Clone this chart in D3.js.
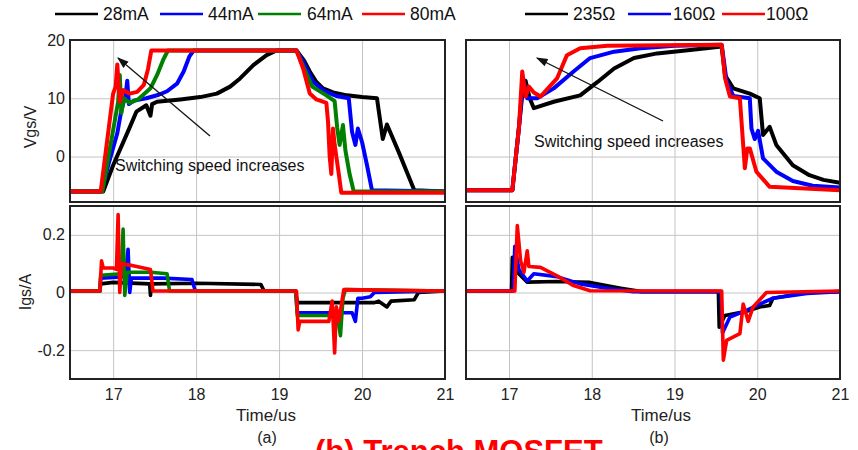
<!DOCTYPE html>
<html lang='en'>
<head>
<meta charset=utf-8>
<title>Gate voltage and current</title>
<script src="https://cdn.jsdelivr.net/npm/d3@7"></script>
<style>
	body { margin: 0; background: white; }
	svg { display: block; font-family: "Liberation Sans", Arial, sans-serif; }
	.grid line { stroke: #c4c4c4; stroke-width: 1; }
	.grid path { display: none; }
	.tick text { font-size: 16px; fill: #222; }
	.frame { fill: none; stroke: #222; stroke-width: 2; }
	.trace { fill: none; stroke-linejoin: round; stroke-linecap: round; }
</style>
</head>
<body>
<svg id='chart' width="858" height="450"></svg>
<script>
// ticks
const timeTicks = [17, 18, 19, 20, 21];
const vgsTicks = [0, 10, 20];
const igsTicks = [-0.2, 0, 0.2];

// legends
const legendA = ['28mA', '44mA', '64mA', '80mA'];
const legendB = ['235Ω', '160Ω', '100Ω'];

// (a) Vgs, [time us, volts]
const vgsA28 = [[16.48,-6],[16.88,-6],[17.0,-1.5],[17.2,5],[17.28,7.7],[17.4,8.8],[17.45,7],[17.47,9],[17.53,9.4],[17.81,9.8],[18.05,10.2],[18.25,10.8],[18.41,12],[18.53,13.4],[18.69,15.7],[18.85,17.4],[18.97,18.2],[19.21,18.2],[19.3,16.5],[19.37,14.6],[19.45,12.8],[19.53,11.7],[19.65,11],[19.82,10.5],[20.0,10.2],[20.18,10],[20.21,7],[20.25,3],[20.3,5.5],[20.33,4.5],[20.45,0.5],[20.55,-3],[20.63,-5.8],[21,-6]];
const vgsA44 = [[16.48,-6],[16.86,-6],[16.95,-1],[17.05,4],[17.1,8],[17.15,10.5],[17.17,13],[17.19,9],[17.25,9.6],[17.4,10],[17.55,10.6],[17.65,11.2],[17.77,12.5],[17.85,14.6],[17.92,17.2],[17.97,18.2],[19.21,18.2],[19.3,16],[19.41,12.8],[19.55,11.2],[19.69,10.4],[19.84,10],[19.88,4.2],[19.92,2],[19.95,4.8],[20.0,2.5],[20.06,-1.5],[20.12,-5.8],[21,-6]];
const vgsA64 = [[16.48,-6],[16.87,-6],[17.06,9.4],[17.08,14],[17.1,7.5],[17.13,10],[17.2,9.2],[17.3,9.8],[17.45,11.7],[17.53,14],[17.6,16.5],[17.66,18.2],[19.21,18.2],[19.29,15.5],[19.4,12],[19.57,10.5],[19.67,9.5],[19.7,5],[19.73,2],[19.77,5.4],[19.8,1],[19.85,-3],[19.9,-6],[21,-6]];
const vgsA80 = [[16.48,-6],[16.85,-6],[17.0,10.8],[17.03,12],[17.05,15.8],[17.08,9.4],[17.12,11.4],[17.2,10.8],[17.29,11.1],[17.37,12.3],[17.42,15],[17.46,18.2],[19.21,18.2],[19.29,15.1],[19.37,10.8],[19.45,9.8],[19.57,9.2],[19.59,6],[19.61,0],[19.63,-3],[19.65,4.8],[19.67,2],[19.72,-3],[19.75,-6.2],[21,-6.2]];

// (a) Igs, [time us, amps]
const igsA28 = [[16.48,0.005],[16.84,0.005],[16.85,0.03],[17.0,0.035],[17.44,0.03],[17.45,-0.01],[17.46,0.03],[18.0,0.032],[18.78,0.028],[18.82,0.005],[19.2,0.005],[19.22,-0.035],[20.15,-0.035],[20.2,-0.03],[20.3,-0.05],[20.35,-0.03],[20.63,-0.025],[20.68,0.0],[21,0.005]];
const igsA44 = [[16.48,0.005],[16.84,0.005],[16.85,0.05],[17.15,0.055],[17.18,0.15],[17.2,0.0],[17.22,0.05],[17.6,0.05],[17.95,0.045],[17.99,0.005],[19.2,0.005],[19.22,-0.07],[19.88,-0.07],[19.92,-0.1],[19.95,-0.02],[20.0,-0.02],[20.1,-0.015],[20.15,0.0],[21,0.005]];
const igsA64 = [[16.48,0.005],[16.84,0.005],[16.85,0.06],[17.1,0.065],[17.12,0.22],[17.14,-0.01],[17.17,0.07],[17.45,0.07],[17.65,0.065],[17.68,0.005],[19.2,0.005],[19.22,-0.08],[19.7,-0.08],[19.74,-0.15],[19.77,-0.02],[19.8,0.01],[21,0.005]];
const igsA80 = [[16.48,0.005],[16.84,0.005],[16.86,0.11],[16.88,0.085],[17.0,0.085],[17.04,0.08],[17.06,0.27],[17.08,0.0],[17.1,0.1],[17.2,0.095],[17.45,0.08],[17.48,0.005],[19.21,0.005],[19.23,-0.13],[19.25,-0.1],[19.6,-0.1],[19.64,-0.03],[19.67,-0.21],[19.69,-0.05],[19.72,-0.1],[19.78,0.01],[21,0.005]];

// (b) Vgs
const vgsB235 = [[16.48,-5.8],[17.04,-5.8],[17.12,5],[17.17,12],[17.2,13],[17.25,10],[17.3,8.3],[17.54,9.4],[17.86,10.5],[18.07,12.8],[18.27,15.1],[18.51,16.9],[18.79,17.7],[19.19,18.3],[19.57,18.9],[19.61,14],[19.71,11.7],[19.91,10.8],[20.03,10],[20.07,3.7],[20.15,5.1],[20.23,2],[20.43,-1.5],[20.63,-3.2],[20.8,-4],[21,-4.5]];
const vgsB160 = [[16.48,-5.8],[17.04,-5.8],[17.12,5],[17.17,13.4],[17.22,10],[17.34,10],[17.54,11.7],[17.78,14.6],[17.98,16.9],[18.27,18],[18.59,18.6],[19.0,19],[19.57,19.2],[19.63,12.9],[19.71,10.4],[19.91,10],[19.93,4.8],[19.97,3],[20.01,4.4],[20.07,-0.3],[20.23,-2.6],[20.43,-4.2],[20.67,-5],[21,-5.3]];
const vgsB100 = [[16.48,-5.8],[17.04,-5.8],[17.12,5],[17.16,14.6],[17.2,10.3],[17.24,12],[17.3,11],[17.38,10.3],[17.58,13.4],[17.7,17.4],[17.86,18.6],[18.19,19],[19.57,19.2],[19.61,13.5],[19.67,10.3],[19.79,10],[19.83,2],[19.85,-2],[19.88,1.4],[19.91,1.4],[19.99,-2.6],[20.15,-5.2],[21,-5.8]];

// (b) Igs
const igsB235 = [[16.48,0.005],[17.03,0.005],[17.04,0.122],[17.1,0.07],[17.22,0.036],[17.58,0.038],[17.98,0.035],[18.35,0.015],[18.6,0.003],[19.53,0.003],[19.54,-0.12],[19.61,-0.08],[19.87,-0.065],[20.03,-0.05],[20.15,-0.045],[20.19,-0.02],[20.6,0.0],[21,0.003]];
const igsB160 = [[16.48,0.005],[17.05,0.005],[17.07,0.16],[17.12,0.08],[17.22,0.04],[17.3,0.065],[17.58,0.055],[17.86,0.03],[18.2,0.014],[18.5,0.003],[19.56,0.003],[19.58,-0.14],[19.67,-0.085],[19.87,-0.062],[20.03,-0.04],[20.19,-0.02],[20.6,-0.003],[21,0.003]];
const igsB100 = [[16.48,0.005],[17.07,0.005],[17.1,0.232],[17.14,0.11],[17.18,0.07],[17.22,0.145],[17.24,0.09],[17.38,0.087],[17.58,0.058],[17.78,0.024],[17.98,0.006],[19.57,0.005],[19.59,-0.235],[19.63,-0.166],[19.79,-0.143],[19.83,-0.04],[19.89,-0.1],[19.95,-0.05],[20.11,0.0],[21,0.005]];

const colA = ['#000000', '#0000ff', '#008000', '#ff0000'];
const colB = ['#000000', '#0000ff', '#ff0000'];

const svg = d3.select('#chart');
const defs = svg.append('defs');
defs.append('marker').attr('id', 'arr').attr('viewBox', '0 0 10 10')
	.attr('refX', 9).attr('refY', 5).attr('markerWidth', 9).attr('markerHeight', 9)
	.attr('orient', 'auto-start-reverse')
	.append('path').attr('d', 'M0,1.5 L10,5 L0,8.5 z').attr('fill', '#111');

// y tick text: hyphen minus, one decimal for the current axis
const yFmt = d => d === 0 ? '0' : (Math.abs(d) < 1 ? d.toFixed(1) : String(d));

// one panel: box, grid, traces
let clipN = 0;
function panel(x0, x1, y0, y1, ydom, yticks, series, colors, sw, showY, showX) {
	const x = d3.scaleLinear().domain([16.48, 21]).range([x0, x1]);
	const y = d3.scaleLinear().domain(ydom).range([y1, y0]);
	const g = svg.append('g');

	g.append('g').attr('class', 'grid').attr('transform', 'translate(0,' + y1 + ')')
		.call(d3.axisBottom(x).tickValues(timeTicks).tickSize(-(y1 - y0)).tickFormat(''));
	g.append('g').attr('class', 'grid').attr('transform', 'translate(' + x0 + ',0)')
		.call(d3.axisLeft(y).tickValues(yticks).tickSize(-(x1 - x0)).tickFormat(''));

	clipN += 1;
	defs.append('clipPath').attr('id', 'c' + clipN)
		.append('rect').attr('x', x0).attr('y', y0).attr('width', x1 - x0).attr('height', y1 - y0);

	const line = d3.line().x(d => x(d[0])).y(d => y(d[1]));
	g.append('g').attr('clip-path', 'url(#c' + clipN + ')')
		.selectAll('path').data(series).join('path')
		.attr('class', 'trace')
		.attr('d', line)
		.attr('stroke', (d, i) => colors[i])
		.attr('stroke-width', sw);

	if (showY) {
		const ay = g.append('g').attr('transform', 'translate(' + x0 + ',0)')
			.call(d3.axisLeft(y).tickValues(yticks).tickSize(0).tickPadding(5).tickFormat(yFmt));
		ay.select('.domain').remove();
	}
	if (showX) {
		const ax = g.append('g').attr('transform', 'translate(0,' + y1 + ')')
			.call(d3.axisBottom(x).tickValues(timeTicks).tickSize(0).tickPadding(10).tickFormat(d3.format('d')));
		ax.select('.domain').remove();
	}
	g.append('rect').attr('class', 'frame')
		.attr('x', x0).attr('y', y0).attr('width', x1 - x0).attr('height', y1 - y0);
}

panel(70, 445, 40, 202, [-7.8, 20], vgsTicks, [vgsA28, vgsA44, vgsA64, vgsA80], colA, 4, true, false);
panel(70, 445, 206, 379, [-0.3, 0.3], igsTicks, [igsA28, igsA44, igsA64, igsA80], colA, 3.6, true, true);
panel(466, 840, 40, 202, [-7.8, 20], vgsTicks, [vgsB235, vgsB160, vgsB100], colB, 4, false, false);
panel(466, 840, 206, 379, [-0.3, 0.3], igsTicks, [igsB235, igsB160, igsB100], colB, 3.6, false, true);

// axis titles
function label(txt, x, y, size, rot) {
	const t = svg.append('text').text(txt).attr('font-size', size).attr('fill', '#222')
		.attr('text-anchor', 'middle');
	if (rot) t.attr('transform', 'translate(' + x + ',' + y + ') rotate(-90)');
	else t.attr('x', x).attr('y', y);
	return t;
}
label('Vgs/V', 36, 127, 16, true);
label('Igs/A', 31, 292, 16, true);
label('Time/us', 266, 421, 17, false);
label('Time/us', 661, 421, 17, false);
label('(a)', 267, 443, 16, false);
label('(b)', 659, 443, 16, false);

// annotations
svg.append('line').attr('x1', 210).attr('y1', 136).attr('x2', 118).attr('y2', 58)
	.attr('stroke', '#111').attr('stroke-width', 1.3).attr('marker-end', 'url(#arr)');
svg.append('line').attr('x1', 663).attr('y1', 121).attr('x2', 537).attr('y2', 58)
	.attr('stroke', '#111').attr('stroke-width', 1.3).attr('marker-end', 'url(#arr)');
svg.append('text').text('Switching speed increases').attr('x', 115).attr('y', 171)
	.attr('font-size', 16).attr('fill', '#111');
svg.append('text').text('Switching speed increases').attr('x', 534).attr('y', 147)
	.attr('font-size', 16).attr('fill', '#111');

// legends
function legend(names, colors, starts, textX) {
	names.forEach((n, i) => {
		svg.append('line').attr('x1', starts[i]).attr('x2', starts[i] + 43)
			.attr('y1', 14).attr('y2', 14).attr('stroke', colors[i]).attr('stroke-width', 2.6);
		svg.append('text').text(n).attr('x', textX[i]).attr('y', 19.5)
			.attr('font-size', 17.5).attr('fill', '#111');
	});
}
legend(legendA, colA, [55, 160, 258, 362], [103, 208, 307, 410]);
legend(legendB, colB, [525, 628, 722], [573, 673, 766]);

// caption below, cut by the picture edge as in the source
svg.append('text').text('(b) Trench MOSFET').attr('x', 315).attr('y', 462)
	.attr('font-size', 31).attr('font-weight', 'bold').attr('fill', '#ff0000');
</script>
</body>
</html>
